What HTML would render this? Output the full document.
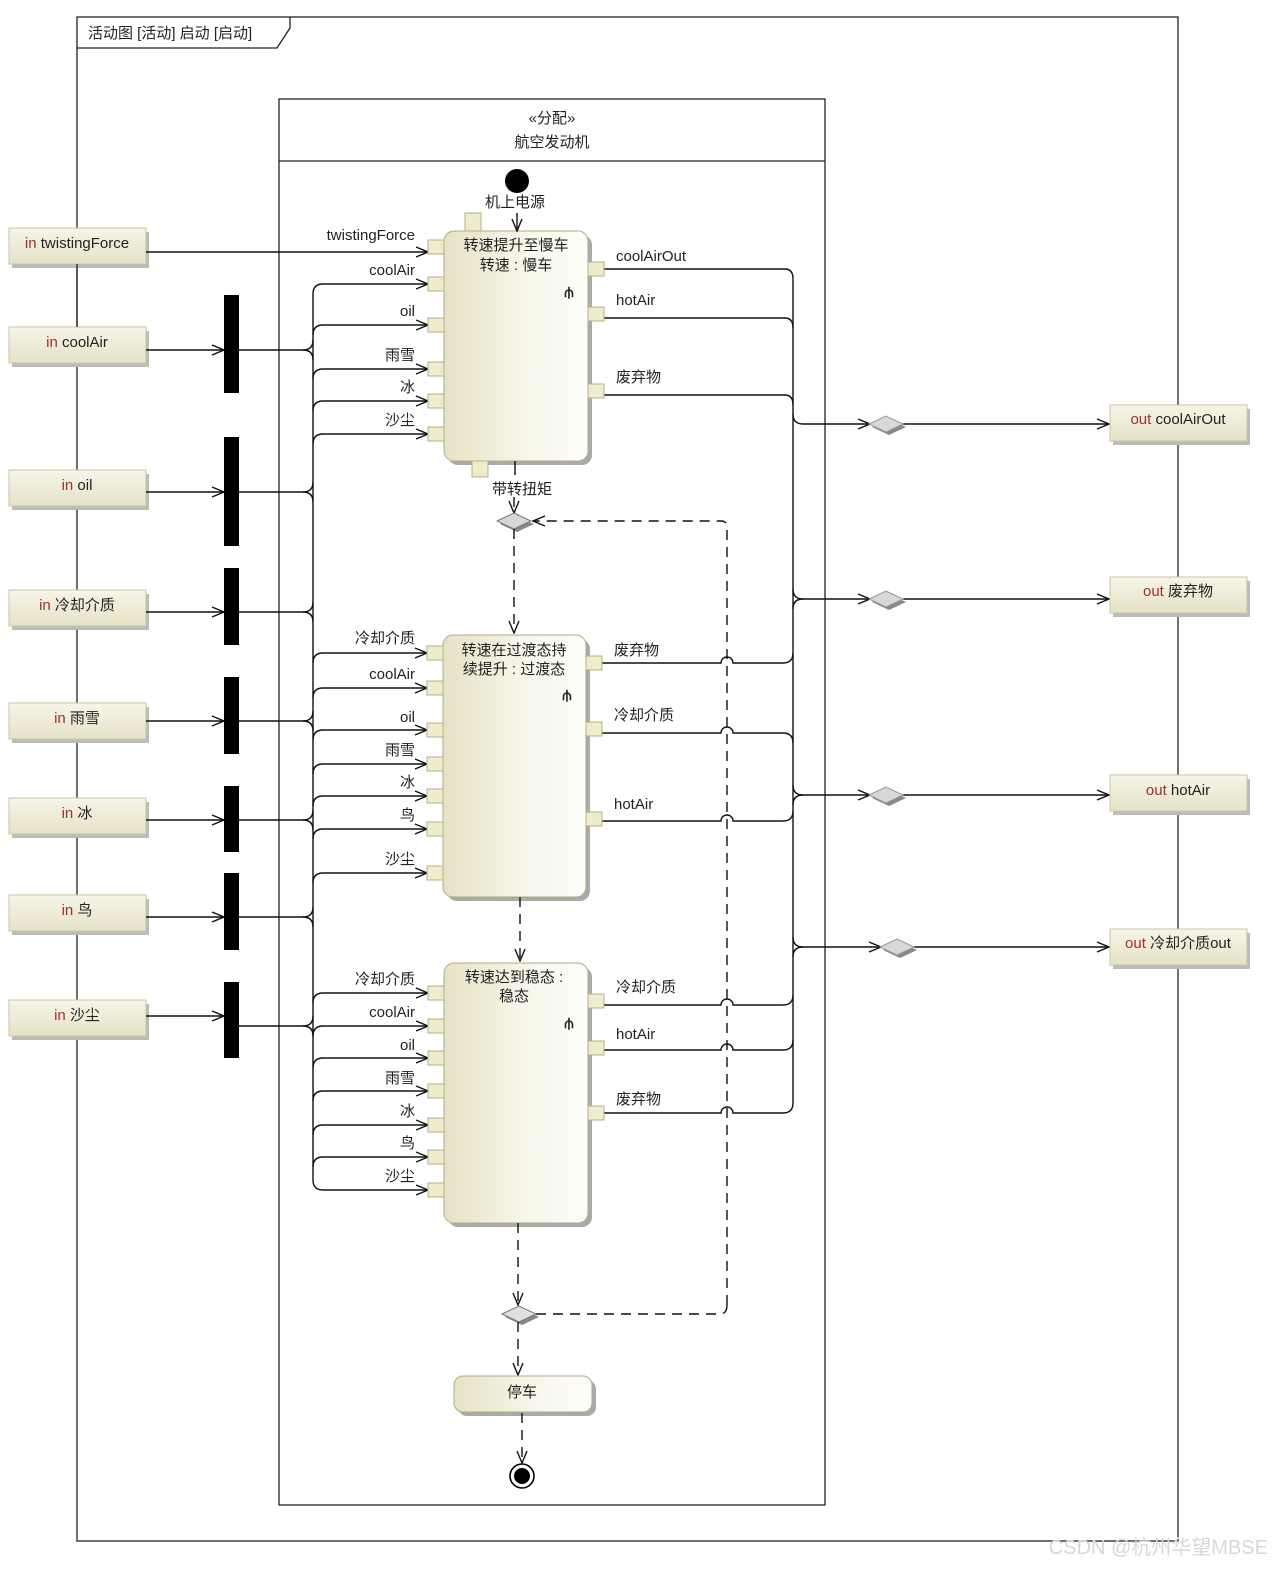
<!DOCTYPE html>
<html><head><meta charset="utf-8"><style>
html,body{margin:0;padding:0;background:#fff}
svg{display:block}
text{font-family:"Liberation Sans","Noto Sans CJK SC",sans-serif;font-size:15px;fill:#222}
.ln{stroke:#111;stroke-width:1.4;fill:none}
.ds{stroke:#111;stroke-width:1.4;fill:none;stroke-dasharray:10,7}
.pin{fill:#efeccc;stroke:#b5b08a;stroke-width:1}
.kw{fill:#a0302a}
</style></head><body>
<svg width="1280" height="1577" viewBox="0 0 1280 1577" xmlns="http://www.w3.org/2000/svg">
<defs>
<marker id="ar" markerWidth="14" markerHeight="12" refX="13" refY="6" orient="auto" markerUnits="userSpaceOnUse">
<path d="M1,1 L13,6 L1,11" fill="none" stroke="#111" stroke-width="1.4"/></marker>
<linearGradient id="g" x1="0" y1="0" x2="1" y2="0"><stop offset="0" stop-color="#e6e2c4"/><stop offset="0.6" stop-color="#f8f7ec"/><stop offset="1" stop-color="#fdfdf8"/></linearGradient>
<linearGradient id="gv" x1="0" y1="0" x2="0" y2="1"><stop offset="0" stop-color="#f6f5e8"/><stop offset="1" stop-color="#e6e2c6"/></linearGradient>
</defs>
<!-- outer frame -->
<rect x="77" y="17" width="1101" height="1524" fill="none" stroke="#222" stroke-width="1.3"/>
<path d="M77,48 L277,48 L290,28 L290,17" fill="none" stroke="#222" stroke-width="1.3"/>
<text x="88" y="38">活动图 [活动] 启动 [启动]</text>
<!-- partition -->
<rect x="279" y="99" width="546" height="1406" fill="none" stroke="#222" stroke-width="1.3"/>
<line x1="279" y1="161" x2="825" y2="161" stroke="#222" stroke-width="1.3"/>
<text x="552" y="123" text-anchor="middle">«分配»</text>
<text x="552" y="147" text-anchor="middle">航空发动机</text>

<!-- input params -->
<g>
<rect x="12" y="232" width="137" height="36" fill="#bbb"/><rect x="9" y="228" width="137" height="36" fill="url(#gv)" stroke="#c9c5a4"/>
<text x="77" y="248" text-anchor="middle"><tspan class="kw">in</tspan> twistingForce</text>
<rect x="12" y="331" width="137" height="36" fill="#bbb"/><rect x="9" y="327" width="137" height="36" fill="url(#gv)" stroke="#c9c5a4"/>
<text x="77" y="347" text-anchor="middle"><tspan class="kw">in</tspan> coolAir</text>
<rect x="12" y="474" width="137" height="36" fill="#bbb"/><rect x="9" y="470" width="137" height="36" fill="url(#gv)" stroke="#c9c5a4"/>
<text x="77" y="490" text-anchor="middle"><tspan class="kw">in</tspan> oil</text>
<rect x="12" y="594" width="137" height="36" fill="#bbb"/><rect x="9" y="590" width="137" height="36" fill="url(#gv)" stroke="#c9c5a4"/>
<text x="77" y="610" text-anchor="middle"><tspan class="kw">in</tspan> 冷却介质</text>
<rect x="12" y="707" width="137" height="36" fill="#bbb"/><rect x="9" y="703" width="137" height="36" fill="url(#gv)" stroke="#c9c5a4"/>
<text x="77" y="723" text-anchor="middle"><tspan class="kw">in</tspan> 雨雪</text>
<rect x="12" y="802" width="137" height="36" fill="#bbb"/><rect x="9" y="798" width="137" height="36" fill="url(#gv)" stroke="#c9c5a4"/>
<text x="77" y="818" text-anchor="middle"><tspan class="kw">in</tspan> 冰</text>
<rect x="12" y="899" width="137" height="36" fill="#bbb"/><rect x="9" y="895" width="137" height="36" fill="url(#gv)" stroke="#c9c5a4"/>
<text x="77" y="915" text-anchor="middle"><tspan class="kw">in</tspan> 鸟</text>
<rect x="12" y="1004" width="137" height="36" fill="#bbb"/><rect x="9" y="1000" width="137" height="36" fill="url(#gv)" stroke="#c9c5a4"/>
<text x="77" y="1020" text-anchor="middle"><tspan class="kw">in</tspan> 沙尘</text>
</g>
<!-- re-draw frame line over params (passes through) -->
<line x1="77" y1="264" x2="77" y2="327" stroke="#222" stroke-width="1.3"/>

<!-- fork bars -->
<g fill="#000">
<rect x="224" y="295" width="15" height="98"/>
<rect x="224" y="437" width="15" height="109"/>
<rect x="224" y="568" width="15" height="77"/>
<rect x="224" y="677" width="15" height="77"/>
<rect x="224" y="786" width="15" height="66"/>
<rect x="224" y="873" width="15" height="77"/>
<rect x="224" y="982" width="15" height="76"/>
</g>
<g class="ln">
<path d="M146,350 L224,350" marker-end="url(#ar)"/>
<path d="M146,492 L224,492" marker-end="url(#ar)"/>
<path d="M146,612 L224,612" marker-end="url(#ar)"/>
<path d="M146,721 L224,721" marker-end="url(#ar)"/>
<path d="M146,820 L224,820" marker-end="url(#ar)"/>
<path d="M146,917 L224,917" marker-end="url(#ar)"/>
<path d="M146,1016 L224,1016" marker-end="url(#ar)"/>
<path d="M239,350 L303,350 Q313,350 313,340"/><path d="M303,350 Q313,350 313,360"/>
<path d="M239,492 L303,492 Q313,492 313,482"/><path d="M303,492 Q313,492 313,502"/>
<path d="M239,612 L303,612 Q313,612 313,602"/><path d="M303,612 Q313,612 313,622"/>
<path d="M239,721 L303,721 Q313,721 313,711"/><path d="M303,721 Q313,721 313,731"/>
<path d="M239,820 L303,820 Q313,820 313,810"/><path d="M303,820 Q313,820 313,830"/>
<path d="M239,917 L303,917 Q313,917 313,907"/><path d="M303,917 Q313,917 313,927"/>
<path d="M239,1026 L303,1026 Q313,1026 313,1016"/><path d="M303,1026 Q313,1026 313,1036"/>
<line x1="313" y1="294" x2="313" y2="1180"/>
<!-- twistingForce -->
<path d="M146,252 L428,252" marker-end="url(#ar)"/>
<!-- A1 branches -->
<path d="M313,294 Q313,284 323,284 L428,284" marker-end="url(#ar)"/>
<path d="M313,335 Q313,325 323,325 L428,325" marker-end="url(#ar)"/>
<path d="M313,379 Q313,369 323,369 L428,369" marker-end="url(#ar)"/>
<path d="M313,411 Q313,401 323,401 L428,401" marker-end="url(#ar)"/>
<path d="M313,444 Q313,434 323,434 L428,434" marker-end="url(#ar)"/>
<!-- A2 -->
<path d="M313,663 Q313,653 323,653 L427,653" marker-end="url(#ar)"/>
<path d="M313,698 Q313,688 323,688 L427,688" marker-end="url(#ar)"/>
<path d="M313,740 Q313,730 323,730 L427,730" marker-end="url(#ar)"/>
<path d="M313,774 Q313,764 323,764 L427,764" marker-end="url(#ar)"/>
<path d="M313,806 Q313,796 323,796 L427,796" marker-end="url(#ar)"/>
<path d="M313,839 Q313,829 323,829 L427,829" marker-end="url(#ar)"/>
<path d="M313,883 Q313,873 323,873 L427,873" marker-end="url(#ar)"/>
<!-- A3 -->
<path d="M313,1003 Q313,993 323,993 L428,993" marker-end="url(#ar)"/>
<path d="M313,1036 Q313,1026 323,1026 L428,1026" marker-end="url(#ar)"/>
<path d="M313,1068 Q313,1058 323,1058 L428,1058" marker-end="url(#ar)"/>
<path d="M313,1101 Q313,1091 323,1091 L428,1091" marker-end="url(#ar)"/>
<path d="M313,1135 Q313,1125 323,1125 L428,1125" marker-end="url(#ar)"/>
<path d="M313,1167 Q313,1157 323,1157 L428,1157" marker-end="url(#ar)"/>
<path d="M313,1180 Q313,1190 323,1190 L428,1190" marker-end="url(#ar)"/>

<!-- outputs -->
<path d="M604,269 L785,269 Q793,269 793,279"/>
<path d="M604,318 L785,318 Q793,318 793,328"/>
<path d="M604,395 L785,395 Q793,395 793,405"/>
<path d="M602,663 L721,663 A6,6 0 0 1 733,663 L783,663 Q793,663 793,653"/>
<path d="M602,733 L721,733 A6,6 0 0 1 733,733 L783,733 Q793,733 793,743"/>
<path d="M602,821 L721,821 A6,6 0 0 1 733,821 L783,821 Q793,821 793,811"/>
<path d="M604,1005 L721,1005 A6,6 0 0 1 733,1005 L783,1005 Q793,1005 793,995"/>
<path d="M604,1050 L721,1050 A6,6 0 0 1 733,1050 L783,1050 Q793,1050 793,1040"/>
<path d="M604,1113 L721,1113 A6,6 0 0 1 733,1113 L783,1113 Q793,1113 793,1103"/>
<line x1="793" y1="279" x2="793" y2="1103"/>
<path d="M793,414 Q793,424 803,424 L870,424" marker-end="url(#ar)"/>
<path d="M793,589 Q793,599 803,599 L870,599" marker-end="url(#ar)"/><path d="M793,609 Q793,599 803,599"/>
<path d="M793,785 Q793,795 803,795 L870,795" marker-end="url(#ar)"/><path d="M793,805 Q793,795 803,795"/>
<path d="M793,937 Q793,947 803,947 L881,947" marker-end="url(#ar)"/><path d="M793,957 Q793,947 803,947"/>
<path d="M903,424 L1109,424" marker-end="url(#ar)"/>
<path d="M903,599 L1109,599" marker-end="url(#ar)"/>
<path d="M903,795 L1109,795" marker-end="url(#ar)"/>
<path d="M914,947 L1109,947" marker-end="url(#ar)"/>
</g>
<!-- merge diamonds -->
<g>
<path d="M872,427 L889,419 L906,427 L889,435 Z" fill="#888"/><path d="M869,424 L886,416 L903,424 L886,432 Z" fill="#d8d8d8" stroke="#999"/>
<path d="M872,602 L889,594 L906,602 L889,610 Z" fill="#888"/><path d="M869,599 L886,591 L903,599 L886,607 Z" fill="#d8d8d8" stroke="#999"/>
<path d="M872,798 L889,790 L906,798 L889,806 Z" fill="#888"/><path d="M869,795 L886,787 L903,795 L886,803 Z" fill="#d8d8d8" stroke="#999"/>
<path d="M883,950 L900,942 L917,950 L900,958 Z" fill="#888"/><path d="M880,947 L897,939 L914,947 L897,955 Z" fill="#d8d8d8" stroke="#999"/>
</g>
<!-- output params -->
<g>
<rect x="1113" y="409" width="137" height="36" fill="#bbb"/><rect x="1110" y="405" width="137" height="36" fill="url(#gv)" stroke="#c9c5a4"/>
<text x="1178" y="424" text-anchor="middle"><tspan class="kw">out</tspan> coolAirOut</text>
<rect x="1113" y="581" width="137" height="36" fill="#bbb"/><rect x="1110" y="577" width="137" height="36" fill="url(#gv)" stroke="#c9c5a4"/>
<text x="1178" y="596" text-anchor="middle"><tspan class="kw">out</tspan> 废弃物</text>
<rect x="1113" y="779" width="137" height="36" fill="#bbb"/><rect x="1110" y="775" width="137" height="36" fill="url(#gv)" stroke="#c9c5a4"/>
<text x="1178" y="795" text-anchor="middle"><tspan class="kw">out</tspan> hotAir</text>
<rect x="1113" y="933" width="137" height="36" fill="#bbb"/><rect x="1110" y="929" width="137" height="36" fill="url(#gv)" stroke="#c9c5a4"/>
<text x="1178" y="948" text-anchor="middle"><tspan class="kw">out</tspan> 冷却介质out</text>
</g>

<!-- actions -->
<rect x="448" y="235" width="144" height="230" rx="10" fill="#aaa"/>
<rect x="444" y="231" width="144" height="230" rx="10" fill="url(#g)" stroke="#b0ab85"/>
<text x="516" y="250" text-anchor="middle">转速提升至慢车</text>
<text x="516" y="270" text-anchor="middle">转速 : 慢车</text>
<text x="569" y="297" text-anchor="middle" font-size="13" font-weight="bold">⫛</text>

<rect x="447" y="639" width="143" height="262" rx="10" fill="#aaa"/>
<rect x="443" y="635" width="143" height="262" rx="10" fill="url(#g)" stroke="#b0ab85"/>
<text x="514" y="655" text-anchor="middle">转速在过渡态持</text>
<text x="514" y="674" text-anchor="middle">续提升 : 过渡态</text>
<text x="567" y="700" text-anchor="middle" font-size="13" font-weight="bold">⫛</text>

<rect x="448" y="967" width="144" height="260" rx="10" fill="#aaa"/>
<rect x="444" y="963" width="144" height="260" rx="10" fill="url(#g)" stroke="#b0ab85"/>
<text x="514" y="982" text-anchor="middle">转速达到稳态 :</text>
<text x="514" y="1001" text-anchor="middle">稳态</text>
<text x="569" y="1028" text-anchor="middle" font-size="13" font-weight="bold">⫛</text>

<!-- pins -->
<g class="pin">
<rect x="428" y="240" width="16" height="14"/><rect x="428" y="277" width="16" height="14"/><rect x="428" y="318" width="16" height="14"/><rect x="428" y="362" width="16" height="14"/><rect x="428" y="394" width="16" height="14"/><rect x="428" y="427" width="16" height="14"/>
<rect x="465" y="213" width="16" height="18"/><rect x="472" y="461" width="16" height="16"/>
<rect x="588" y="262" width="16" height="14"/><rect x="588" y="307" width="16" height="14"/><rect x="588" y="384" width="16" height="14"/>
<rect x="427" y="646" width="16" height="14"/><rect x="427" y="681" width="16" height="14"/><rect x="427" y="723" width="16" height="14"/><rect x="427" y="757" width="16" height="14"/><rect x="427" y="789" width="16" height="14"/><rect x="427" y="822" width="16" height="14"/><rect x="427" y="866" width="16" height="14"/>
<rect x="586" y="656" width="16" height="14"/><rect x="586" y="722" width="16" height="14"/><rect x="586" y="812" width="16" height="14"/>
<rect x="428" y="986" width="16" height="14"/><rect x="428" y="1019" width="16" height="14"/><rect x="428" y="1051" width="16" height="14"/><rect x="428" y="1084" width="16" height="14"/><rect x="428" y="1118" width="16" height="14"/><rect x="428" y="1150" width="16" height="14"/><rect x="428" y="1183" width="16" height="14"/>
<rect x="588" y="994" width="16" height="14"/><rect x="588" y="1041" width="16" height="14"/><rect x="588" y="1106" width="16" height="14"/>
</g>

<!-- pin labels -->
<g text-anchor="end">
<text x="415" y="240">twistingForce</text><text x="415" y="275">coolAir</text><text x="415" y="316">oil</text><text x="415" y="360">雨雪</text><text x="415" y="392">冰</text><text x="415" y="425">沙尘</text>
<text x="415" y="643">冷却介质</text><text x="415" y="679">coolAir</text><text x="415" y="722">oil</text><text x="415" y="755">雨雪</text><text x="415" y="787">冰</text><text x="415" y="820">鸟</text><text x="415" y="864">沙尘</text>
<text x="415" y="984">冷却介质</text><text x="415" y="1017">coolAir</text><text x="415" y="1050">oil</text><text x="415" y="1083">雨雪</text><text x="415" y="1116">冰</text><text x="415" y="1148">鸟</text><text x="415" y="1181">沙尘</text>
</g>
<text x="616" y="261">coolAirOut</text><text x="616" y="305">hotAir</text><text x="616" y="382">废弃物</text>
<text x="614" y="655">废弃物</text><text x="614" y="720">冷却介质</text><text x="614" y="809">hotAir</text>
<text x="616" y="992">冷却介质</text><text x="616" y="1039">hotAir</text><text x="616" y="1104">废弃物</text>

<!-- control flow -->
<circle cx="517" cy="181" r="12" fill="#000"/>
<text x="515" y="207" text-anchor="middle">机上电源</text>
<path class="ln" d="M517,213 L517,231" marker-end="url(#ar)"/>
<line class="ln" x1="515" y1="461" x2="515" y2="475"/>
<text x="522" y="494" text-anchor="middle">带转扭矩</text>
<path class="ds" d="M514,497 L514,513" marker-end="url(#ar)"/>
<path d="M500,524 L517,516 L534,524 L517,532 Z" fill="#888"/><path d="M497,521 L514,513 L531,521 L514,529 Z" fill="#d8d8d8" stroke="#777"/>
<path class="ds" d="M514,529 L514,633" marker-end="url(#ar)"/>
<path class="ds" d="M727,1305 L727,527 Q727,521 721,521 L533,521" marker-end="url(#ar)"/>
<path class="ds" d="M520,897 L520,961" marker-end="url(#ar)"/>
<path class="ds" d="M518,1223 L518,1305" marker-end="url(#ar)"/>
<path d="M505,1317 L522,1309 L539,1317 L522,1325 Z" fill="#888"/><path d="M502,1314 L519,1306 L536,1314 L519,1322 Z" fill="#e0e0e0" stroke="#777"/>
<path class="ds" d="M536,1314 L720,1314 Q727,1314 727,1305"/>
<path class="ds" d="M518,1322 L518,1375" marker-end="url(#ar)"/>
<rect x="458" y="1380" width="138" height="36" rx="9" fill="#aaa"/>
<rect x="454" y="1376" width="138" height="36" rx="9" fill="url(#g)" stroke="#b0ab85"/>
<text x="522" y="1397" text-anchor="middle">停车</text>
<path class="ds" d="M522,1413 L522,1463" marker-end="url(#ar)"/>
<circle cx="522" cy="1476" r="12" fill="#fff" stroke="#000" stroke-width="1.6"/>
<circle cx="522" cy="1476" r="8" fill="#000"/>

<text x="1268" y="1554" text-anchor="end" style="font-size:20px;fill:#d8d8d8">CSDN @杭州华望MBSE</text>
</svg>
</body></html>
